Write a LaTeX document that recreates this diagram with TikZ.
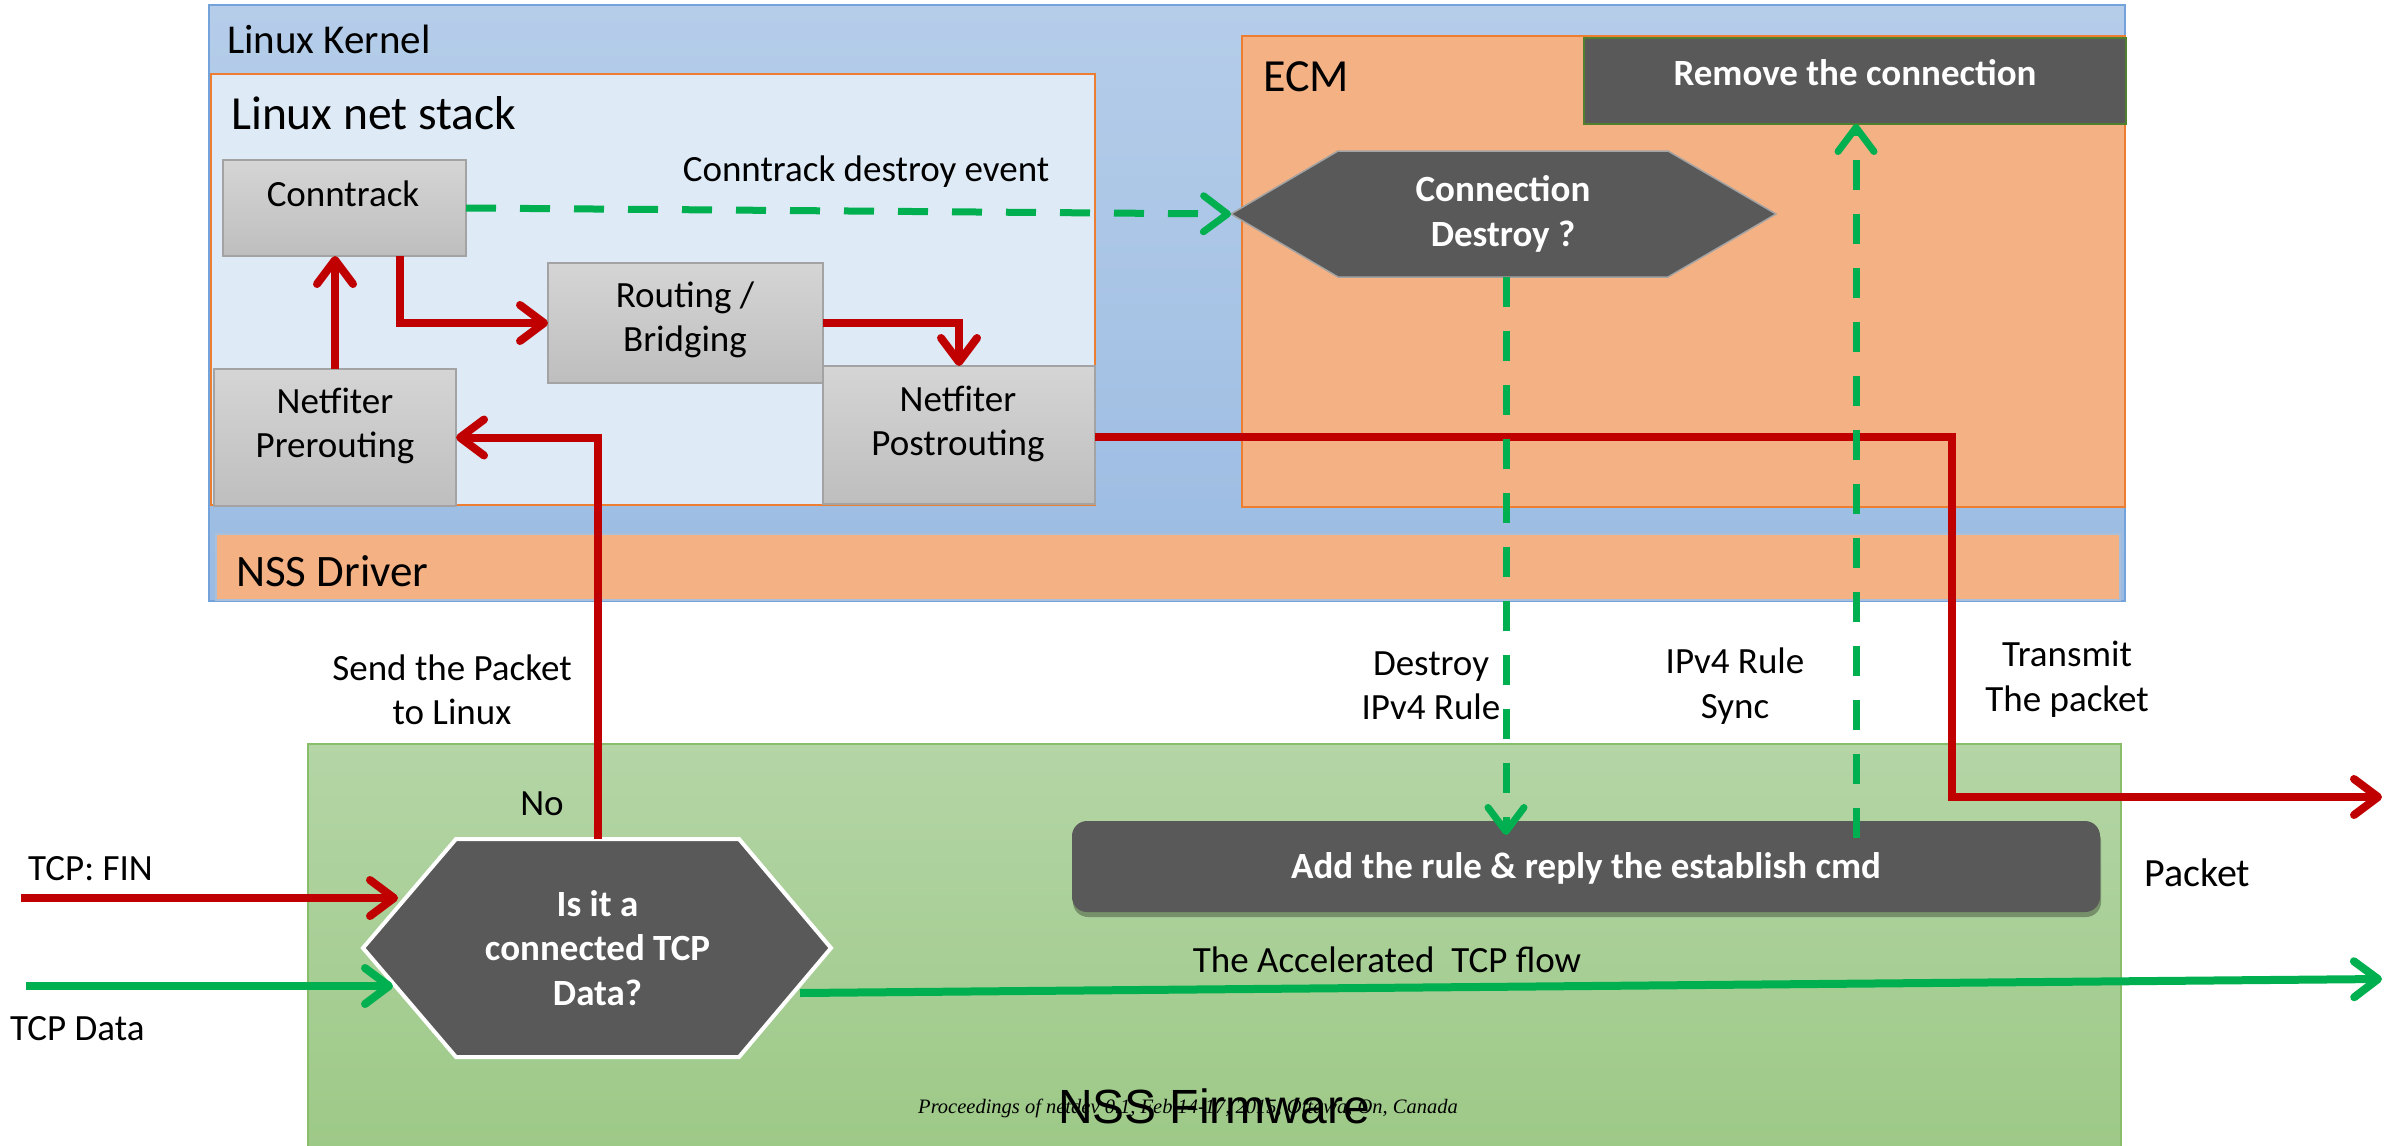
\documentclass[tikz,border=0pt]{standalone}
\usepackage{fontspec}
\setmainfont{Carlito}
\newfontfamily\arialf{Liberation Sans}
\newfontfamily\timesf{Liberation Serif}
\usetikzlibrary{arrows.meta,shadows,calc}
\pgfdeclarelayer{bg}
\pgfdeclarelayer{mid}
\pgfsetlayers{bg,mid,main}
\definecolor{kred}{HTML}{C00000}
\definecolor{kgreen}{HTML}{00B050}
\definecolor{dkgray}{HTML}{595959}
\definecolor{kernTop}{HTML}{B5CDE9}
\definecolor{kernBot}{HTML}{9BBBE2}
\definecolor{kernEdge}{HTML}{74A2DA}
\definecolor{stackFill}{HTML}{DEEAF6}
\definecolor{orangeEdge}{HTML}{ED7D31}
\definecolor{ecmFill}{HTML}{F4B183}
\definecolor{fwTop}{HTML}{B4D5A6}
\definecolor{fwBot}{HTML}{9DC987}
\definecolor{fwEdge}{HTML}{88BE6A}
\definecolor{grayTop}{HTML}{D5D5D5}
\definecolor{grayBot}{HTML}{BEBEBE}
\definecolor{grayEdge}{HTML}{A3A3A3}
\definecolor{remEdge}{HTML}{4F7F2F}
\definecolor{drvEdge}{HTML}{A9BFDA}
\tikzset{
  box/.style={rectangle, inner sep=0pt, outer sep=0pt},
  graybox/.style={box, top color=grayTop, bottom color=grayBot, draw=grayEdge, line width=1.5pt},
  lbl/.style={font=\fontsize{37}{44.5}\selectfont, align=center, inner sep=0pt},
  wlbl/.style={lbl, text=white, font=\fontsize{37}{44.5}\selectfont\bfseries},
  barb/.style={-{Straight Barb[length=24pt,width=36pt,round]}},
  redarrow/.style={draw=kred, line width=8pt, barb},
  greenarrow/.style={draw=kgreen, line width=8pt, barb},
  greendash/.style={draw=kgreen, line width=7pt, dash pattern=on 30pt off 24pt, barb},
}
\begin{document}
\begin{tikzpicture}[x=1pt,y=-1pt]
\useasboundingbox (0,0) rectangle (2397,1145);
\begin{pgfonlayer}{bg}
\fill[white] (0,0) rectangle (2397,1145);
\node[box, top color=kernTop, bottom color=kernBot, draw=kernEdge, line width=2pt,
      minimum width=1916pt, minimum height=596pt] (kernel) at (1167,303) {};
\node[box, fill=stackFill, draw=orangeEdge, line width=1.5pt,
      minimum width=884pt, minimum height=431pt] (netstack) at (653,289.5) {};
\node[box, fill=ecmFill, draw=orangeEdge, line width=1.5pt,
      minimum width=883pt, minimum height=471pt] (ecm) at (1683.5,271.5) {};
\node[box, fill=ecmFill, draw=drvEdge, line width=1.5pt,
      minimum width=1904pt, minimum height=66pt] (driver) at (1168,567) {};
\node[box, top color=fwTop, bottom color=fwBot, draw=fwEdge, line width=2pt,
      minimum width=1813pt, minimum height=404pt] (firmware) at (1214.5,946) {};
\end{pgfonlayer}

% container titles
\node[lbl, anchor=west, font=\fontsize{41}{48}\selectfont] (kernel-t) at (227,39) {Linux Kernel};
\node[lbl, anchor=west, font=\fontsize{47.5}{55}\selectfont] (stack-t) at (231,113) {Linux net stack};
\node[lbl, font=\fontsize{46}{54}\selectfont] (ecm-t) at (1306,77) {ECM};
\node[lbl, anchor=west, font=\fontsize{45}{53}\selectfont] (driver-t) at (236,571) {NSS Driver};
\node[lbl, font=\timesf\itshape\fontsize{20.5}{24}\selectfont] (footer) at (1188,1108) {Proceedings of netdev 0.1, Feb 14-17, 2015, Ottawa, On, Canada};
\node[lbl, font=\arialf\fontsize{48}{56}\selectfont] (fw-t) at (1214,1106) {NSS Firmware};

% net stack boxes
\node[graybox, minimum width=243pt, minimum height=96pt] (conntrack) at (344.5,208) {};
\node[lbl] (conntrack-t) at (343,194) {Conntrack};
\node[graybox, minimum width=275pt, minimum height=120pt] (routing) at (685.5,323) {};
\node[lbl] (routing-t) at (685,320) {Routing /\\Bridging};
\node[graybox, minimum width=242pt, minimum height=137pt] (prerouting) at (335,437.5) {};
\node[lbl] (prerouting-t) at (335,426) {Netfiter\\Prerouting};
\node[graybox, minimum width=272pt, minimum height=138pt] (postrouting) at (959,435) {};
\node[lbl] (postrouting-t) at (958,424) {Netfiter\\Postrouting};

% ECM content
\node[box, fill=dkgray, draw=remEdge, line width=2pt,
      minimum width=542pt, minimum height=86pt] (remove) at (1855,81) {};
\node[wlbl] (remove-t) at (1855,73) {Remove the connection};
\node[box, wlbl, minimum width=330pt, minimum height=126pt] (cd) at (1503,214) {Connection\\Destroy ?};

% firmware content
\node[box, fill=dkgray, rounded corners=15pt, minimum width=1028pt, minimum height=91pt,
      drop shadow={shadow xshift=1pt, shadow yshift=-5pt, opacity=0.3, fill=black}] (addrule) at (1586,866.5) {};
\node[wlbl] (addrule-t) at (1586,868) {Add the rule \& reply the establish cmd};
\node[box, wlbl, minimum width=283pt, minimum height=218pt] (isit) at (597.5,948) {Is it a\\connected TCP\\Data?};

\begin{pgfonlayer}{mid}
\filldraw[fill=dkgray, draw=grayEdge, line width=1.5pt]
  ([xshift=-107pt]cd.west) -- (cd.north west) -- (cd.north east) -- ([xshift=108pt]cd.east)
  -- (cd.south east) -- (cd.south west) -- cycle;
\filldraw[fill=dkgray, draw=white, line width=4pt]
  ([xshift=-93pt]isit.west) -- (isit.north west) -- (isit.north east) -- ([xshift=92pt]isit.east)
  -- (isit.south east) -- (isit.south west) -- cycle;
\end{pgfonlayer}

% free labels
\node[lbl] (cde-t) at (866,172) {Conntrack destroy event};
\node[lbl] (send-t) at (452,690) {Send the Packet\\to Linux};
\node[lbl] (no-t) at (542,804) {No};
\node[lbl, anchor=west] (fin-t) at (28,869) {TCP: FIN};
\node[lbl, anchor=west] (data-t) at (10,1029) {TCP Data};
\node[lbl] (destroy-t) at (1431,686) {Destroy\\IPv4 Rule};
\node[lbl] (sync-t) at (1735,686) {IPv4 Rule\\Sync};
\node[lbl] (transmit-t) at (2067,679) {Transmit\\The packet};
\node[lbl, anchor=west, font=\fontsize{40}{48}\selectfont] (packet-t) at (2144,873) {Packet};
\node[lbl] (flow-t) at (1387,960) {The Accelerated\ \ TCP flow};

% coordinates for free ends
\coordinate (turn) at (1952,797);
\coordinate (pktout) at (2382,797);
\coordinate (finin) at (21,898);
\coordinate (finend) at (398,898);
\coordinate (datain) at (26,986);
\coordinate (dataend) at (393,986);
\coordinate (flowstart) at (800,993);
\coordinate (flowend) at (2382,979);

% red connectors
\draw[redarrow] (prerouting.north) -- (prerouting.north |- conntrack.south);
\draw[redarrow] ([xshift=55pt]conntrack.south) |- (routing.west);
\draw[redarrow] (routing.east) -| (postrouting.north);
\draw[redarrow] (isit.north) |- (prerouting.east);
\draw[redarrow] ([yshift=-2pt]postrouting.east) -| (turn) -- (pktout);
\draw[redarrow] (finin) -- (finend);

% green connectors
\draw[greenarrow] (datain) -- (dataend);
\draw[greenarrow] (flowstart) -- (flowend);
\draw[greendash] (conntrack.east) -- ([xshift=-107pt]cd.west);
\draw[greendash] ([xshift=3pt]cd.south) -- ($(cd.south |- addrule.north)+(3,14)$);
\draw[greendash] ($(remove.south |- addrule.north)+(1,17)$) -- ([xshift=1pt]remove.south);
\end{tikzpicture}
\end{document}
